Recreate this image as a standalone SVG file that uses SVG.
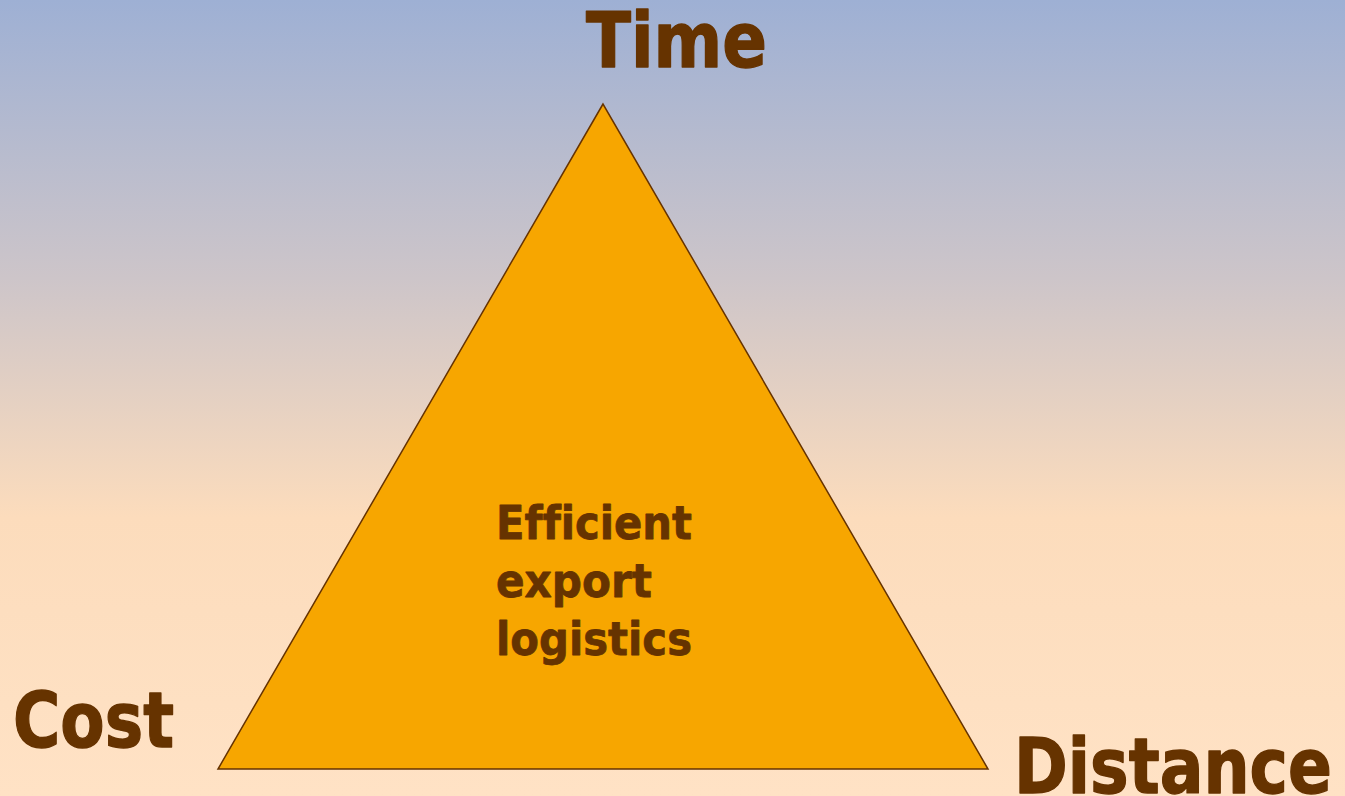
<svg xmlns="http://www.w3.org/2000/svg" width="1345" height="796" viewBox="0 0 1345 796">
  <defs>
    <linearGradient id="sky" x1="0" y1="0" x2="0" y2="1">
      <stop offset="0" stop-color="#9EB0D4"/>
      <stop offset="0.35" stop-color="#CDC5C9"/>
      <stop offset="0.65" stop-color="#FCDCBC"/>
      <stop offset="1" stop-color="#FFE2C5"/>
    </linearGradient>
    <style>
      .label { font-family: "DejaVu Sans", sans-serif; font-weight: bold; fill: #663300; stroke: #663300; stroke-linejoin: round; font-variant-ligatures: none; }
      .corner { font-size: 77px; stroke-width: 1.4; }
      .inner { font-size: 47px; stroke-width: 0.8; }
      .tri { fill: #F7A600; stroke: #663300; stroke-width: 1.5; stroke-linejoin: miter; }
    </style>
  </defs>

  <rect x="0" y="0" width="1345" height="796" fill="url(#sky)"/>

  <g id="triangle">
    <polygon class="tri" points="603,104 218,769 988,769"/>
    <text class="label inner" x="496" y="539" textLength="196" lengthAdjust="spacingAndGlyphs">Efficient</text>
    <text class="label inner" x="496" y="597" textLength="156" lengthAdjust="spacingAndGlyphs">export</text>
    <text class="label inner" x="496" y="655" textLength="196" lengthAdjust="spacingAndGlyphs">logistics</text>
  </g>

  <g id="time">
    <text class="label corner" x="586" y="67" textLength="181" lengthAdjust="spacingAndGlyphs">Time</text>
  </g>

  <g id="cost">
    <text class="label corner" x="13" y="747" textLength="161" lengthAdjust="spacingAndGlyphs">Cost</text>
  </g>

  <g id="distance">
    <text class="label corner" x="1014" y="793" textLength="318" lengthAdjust="spacingAndGlyphs">Distance</text>
  </g>
</svg>
